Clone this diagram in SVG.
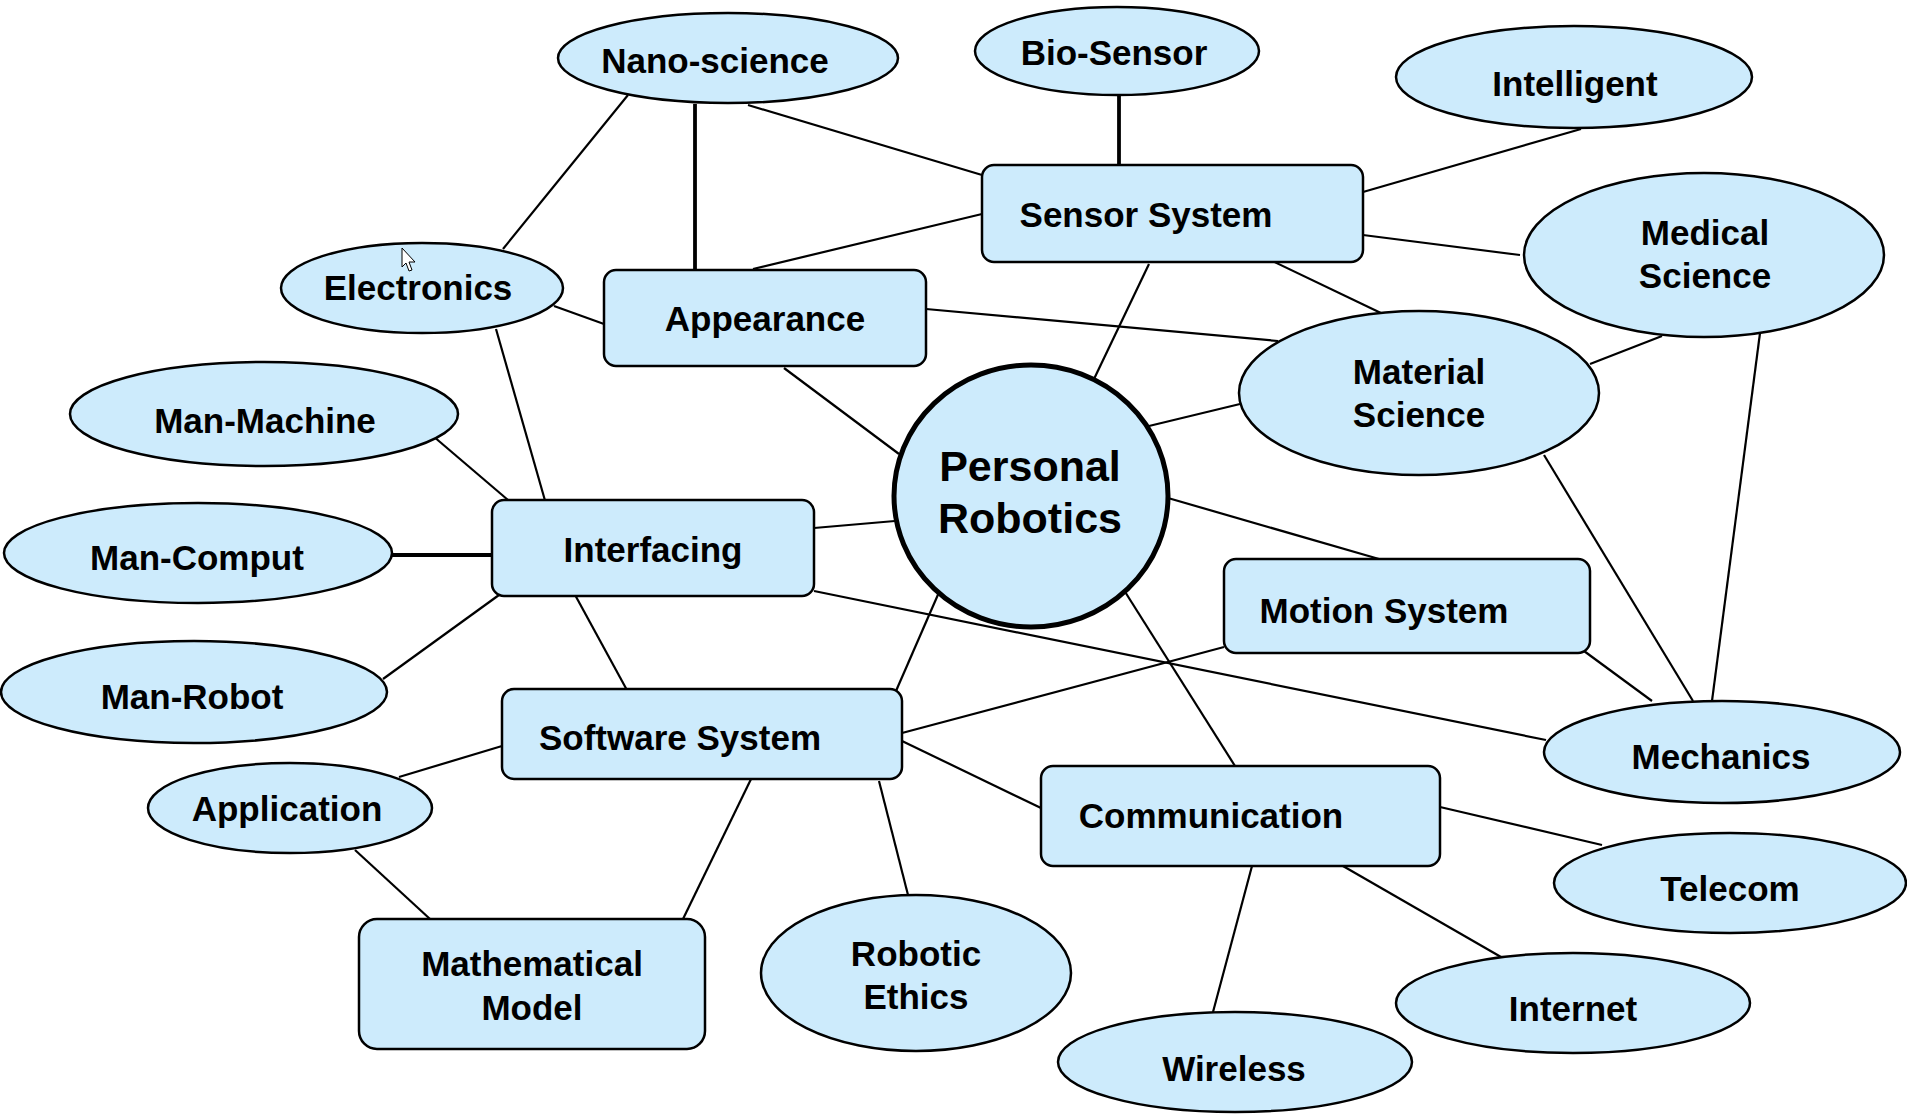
<svg xmlns="http://www.w3.org/2000/svg" width="1907" height="1115" viewBox="0 0 1907 1115">
<style>
.n{fill:#CDEBFC;stroke:#000;stroke-width:2.5}
.c{fill:#CDEBFC;stroke:#000;stroke-width:5}
.t{font-family:"Liberation Sans",Arial,sans-serif;font-weight:bold;font-size:35px;fill:#000;text-anchor:middle}
.tc{font-family:"Liberation Sans",Arial,sans-serif;font-weight:bold;font-size:43px;fill:#000;text-anchor:middle}
#connectors line{stroke:#000;stroke-width:2.2}
#connectors line.thick{stroke-width:3.8}
</style>
<rect width="1907" height="1115" fill="#fff"/>
<g id="connectors">
<line x1="628" y1="95" x2="503" y2="249"/>
<line class="thick" x1="695" y1="104" x2="695" y2="270"/>
<line x1="748" y1="105" x2="982" y2="175"/>
<line x1="753" y1="269" x2="982" y2="214"/>
<line class="thick" x1="1119" y1="90" x2="1119" y2="166"/>
<line x1="1363" y1="192" x2="1581" y2="129"/>
<line x1="1363" y1="235" x2="1520" y2="255"/>
<line x1="1264" y1="257" x2="1383" y2="314"/>
<line x1="1149" y1="264" x2="1094" y2="379"/>
<line x1="926" y1="309" x2="1278" y2="341"/>
<line x1="784" y1="368" x2="899" y2="454"/>
<line x1="554" y1="306" x2="604" y2="324"/>
<line x1="496" y1="329" x2="546" y2="504"/>
<line x1="433" y1="436" x2="508" y2="500"/>
<line class="thick" x1="392" y1="555" x2="492" y2="555"/>
<line x1="383" y1="679" x2="499" y2="595"/>
<line x1="814" y1="528" x2="895" y2="521"/>
<line x1="574" y1="593" x2="628" y2="692"/>
<line x1="814" y1="591" x2="1546" y2="740"/>
<line x1="896" y1="691" x2="940" y2="590"/>
<line x1="902" y1="733" x2="1224" y2="647"/>
<line x1="902" y1="741" x2="1041" y2="808"/>
<line x1="753" y1="775" x2="683" y2="919"/>
<line x1="879" y1="781" x2="908" y2="895"/>
<line x1="399" y1="777" x2="502" y2="746"/>
<line x1="355" y1="850" x2="430" y2="919"/>
<line x1="1149" y1="426" x2="1240" y2="404"/>
<line x1="1168" y1="498" x2="1379" y2="559"/>
<line x1="1122" y1="587" x2="1235" y2="766"/>
<line x1="1590" y1="364" x2="1662" y2="336"/>
<line x1="1544" y1="455" x2="1693" y2="701"/>
<line x1="1760" y1="333" x2="1712" y2="701"/>
<line x1="1584" y1="651" x2="1652" y2="701"/>
<line x1="1440" y1="807" x2="1602" y2="845"/>
<line x1="1336" y1="862" x2="1501" y2="957"/>
<line x1="1252" y1="866" x2="1213" y2="1012"/>
</g>
<g id="nano-science"><ellipse class="n" cx="728" cy="58" rx="170" ry="45"/><text class="t" x="715" y="73">Nano-science</text></g>
<g id="bio-sensor"><ellipse class="n" cx="1117" cy="51" rx="142" ry="44"/><text class="t" x="1114" y="65">Bio-Sensor</text></g>
<g id="intelligent"><ellipse class="n" cx="1574" cy="77" rx="178" ry="51"/><text class="t" x="1575" y="96">Intelligent</text></g>
<g id="sensor-system"><rect class="n" x="982" y="165" width="381" height="97" rx="12"/><text class="t" x="1146" y="227">Sensor System</text></g>
<g id="medical-science"><ellipse class="n" cx="1704" cy="255" rx="180" ry="82"/><text class="t" x="1705" y="245">Medical</text><text class="t" x="1705" y="288">Science</text></g>
<g id="electronics"><ellipse class="n" cx="422" cy="288" rx="141" ry="45"/><text class="t" x="418" y="300">Electronics</text></g>
<g id="appearance"><rect class="n" x="604" y="270" width="322" height="96" rx="12"/><text class="t" x="765" y="331">Appearance</text></g>
<g id="material-science"><ellipse class="n" cx="1419" cy="393" rx="180" ry="82"/><text class="t" x="1419" y="384">Material</text><text class="t" x="1419" y="427">Science</text></g>
<g id="man-machine"><ellipse class="n" cx="264" cy="414" rx="194" ry="52"/><text class="t" x="265" y="433">Man-Machine</text></g>
<g id="personal-robotics"><ellipse class="c" cx="1031" cy="496" rx="137" ry="131"/><text class="tc" x="1030" y="481">Personal</text><text class="tc" x="1030" y="533">Robotics</text></g>
<g id="interfacing"><rect class="n" x="492" y="500" width="322" height="96" rx="12"/><text class="t" x="653" y="562">Interfacing</text></g>
<g id="man-comput"><ellipse class="n" cx="198" cy="553" rx="194" ry="50"/><text class="t" x="197" y="570">Man-Comput</text></g>
<g id="motion-system"><rect class="n" x="1224" y="559" width="366" height="94" rx="12"/><text class="t" x="1384" y="623">Motion System</text></g>
<g id="man-robot"><ellipse class="n" cx="194" cy="692" rx="193" ry="51"/><text class="t" x="192" y="709">Man-Robot</text></g>
<g id="software-system"><rect class="n" x="502" y="689" width="400" height="90" rx="12"/><text class="t" x="680" y="750">Software System</text></g>
<g id="mechanics"><ellipse class="n" cx="1722" cy="752" rx="178" ry="51"/><text class="t" x="1721" y="769">Mechanics</text></g>
<g id="application"><ellipse class="n" cx="290" cy="808" rx="142" ry="45"/><text class="t" x="287" y="821">Application</text></g>
<g id="communication"><rect class="n" x="1041" y="766" width="399" height="100" rx="12"/><text class="t" x="1211" y="828">Communication</text></g>
<g id="telecom"><ellipse class="n" cx="1730" cy="883" rx="176" ry="50"/><text class="t" x="1730" y="901">Telecom</text></g>
<g id="mathematical-model"><rect class="n" x="359" y="919" width="346" height="130" rx="18"/><text class="t" x="532" y="976">Mathematical</text><text class="t" x="532" y="1020">Model</text></g>
<g id="robotic-ethics"><ellipse class="n" cx="916" cy="973" rx="155" ry="78"/><text class="t" x="916" y="966">Robotic</text><text class="t" x="916" y="1009">Ethics</text></g>
<g id="internet"><ellipse class="n" cx="1573" cy="1003" rx="177" ry="50"/><text class="t" x="1573" y="1021">Internet</text></g>
<g id="wireless"><ellipse class="n" cx="1235" cy="1062" rx="177" ry="50"/><text class="t" x="1234" y="1081">Wireless</text></g>
<polygon points="402,248 402,267 406,263 409,271 412,270 409,262 415,262" fill="#fff" stroke="#000" stroke-width="1"/>
</svg>
